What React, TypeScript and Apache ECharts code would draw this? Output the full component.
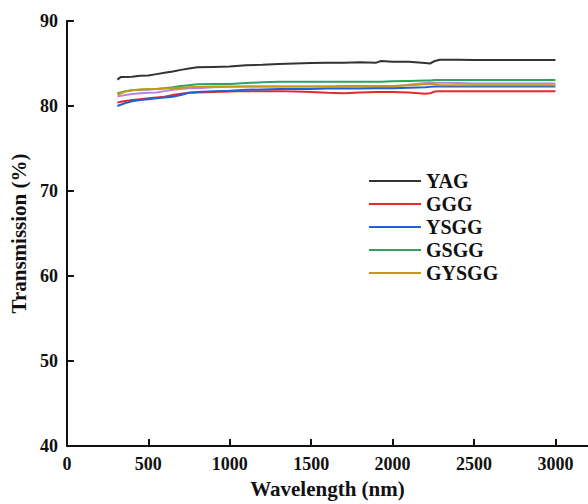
import React, { useEffect, useRef } from "react";
import * as echarts from "echarts";

const wavelengths = [310, 330, 360, 400, 450, 500, 550, 600, 650, 700, 750, 800, 900, 1000, 1100, 1200, 1300, 1400, 1500, 1600, 1700, 1800, 1900, 1930, 2000, 2100, 2200, 2230, 2260, 2290, 2400, 2500, 2600, 2700, 2800, 2900, 3000];

const yag = [83.1, 83.4, 83.4, 83.45, 83.55, 83.6, 83.75, 83.9, 84.05, 84.25, 84.4, 84.55, 84.6, 84.65, 84.8, 84.85, 84.95, 85.0, 85.05, 85.1, 85.1, 85.15, 85.1, 85.3, 85.2, 85.2, 85.05, 85.0, 85.3, 85.45, 85.45, 85.4, 85.4, 85.4, 85.4, 85.4, 85.4];
const ggg = [80.4, 80.5, 80.6, 80.7, 80.8, 80.9, 81.0, 81.1, 81.3, 81.45, 81.55, 81.6, 81.65, 81.7, 81.75, 81.75, 81.75, 81.7, 81.65, 81.55, 81.5, 81.6, 81.65, 81.65, 81.65, 81.6, 81.45, 81.5, 81.7, 81.75, 81.75, 81.75, 81.75, 81.75, 81.75, 81.75, 81.75];
const ysgg = [80.0, 80.15, 80.35, 80.55, 80.7, 80.8, 80.9, 81.0, 81.1, 81.3, 81.55, 81.65, 81.75, 81.8, 81.9, 81.95, 82.0, 82.0, 82.0, 82.05, 82.05, 82.05, 82.1, 82.1, 82.1, 82.15, 82.2, 82.25, 82.3, 82.3, 82.3, 82.3, 82.3, 82.3, 82.3, 82.3, 82.3];
const gsgg = [81.5, 81.6, 81.75, 81.85, 81.9, 81.95, 82.0, 82.1, 82.2, 82.35, 82.45, 82.55, 82.6, 82.6, 82.7, 82.8, 82.85, 82.85, 82.85, 82.85, 82.85, 82.85, 82.85, 82.85, 82.9, 82.95, 83.0, 83.0, 83.05, 83.05, 83.05, 83.05, 83.05, 83.05, 83.05, 83.05, 83.05];
const gysgg = [81.3, 81.5, 81.7, 81.85, 81.95, 82.0, 82.0, 82.05, 82.1, 82.15, 82.2, 82.25, 82.3, 82.3, 82.3, 82.3, 82.3, 82.3, 82.3, 82.3, 82.35, 82.35, 82.35, 82.35, 82.35, 82.45, 82.55, 82.6, 82.55, 82.45, 82.45, 82.45, 82.45, 82.45, 82.45, 82.45, 82.45];
const extra = [81.1, 81.2, 81.3, 81.4, 81.5, 81.55, 81.6, 81.75, 81.9, 82.0, 82.1, 82.1, 82.2, 82.25, 82.3, 82.3, 82.3, 82.3, 82.3, 82.3, 82.3, 82.3, 82.3, 82.3, 82.3, 82.5, 82.7, 82.75, 82.75, 82.75, 82.7, 82.65, 82.65, 82.65, 82.65, 82.65, 82.65];

const legendNames = ["YAG", "GGG", "YSGG", "GSGG", "GYSGG"];
const xTicks = { min: 0, max: 3200, interval: 500 };
const yTicks = { min: 40, max: 90, interval: 10 };

const FONT = "'Liberation Serif', 'Times New Roman', serif";

export default function App() {
  const ref = useRef<HTMLDivElement>(null);
  useEffect(() => {
    if (!ref.current) return;
    const chart = echarts.init(ref.current, null, { renderer: "svg" });
    const mk = (name: string, vals: number[], color: string, z: number) => ({
      name,
      type: "line",
      data: wavelengths.map((w, i) => [w, vals[i]]),
      showSymbol: false,
      symbol: "none",
      z,
      lineStyle: { color, width: 2 },
      itemStyle: { color },
    });
    chart.setOption({
      animation: false,
      backgroundColor: "#ffffff",
      grid: { left: 62, right: 0, top: 21, bottom: 54 },
      legend: {
        data: legendNames,
        orient: "vertical",
        left: 369,
        top: 171,
        padding: 0,
        icon: "rect",
        itemWidth: 52,
        itemHeight: 2,
        itemGap: 3,
        textStyle: { fontFamily: FONT, fontWeight: "bold", fontSize: 20, color: "#111", lineHeight: 20 },
      },
      xAxis: {
        type: "value",
        min: xTicks.min,
        max: xTicks.max,
        interval: xTicks.interval,
        name: "Wavelength (nm)",
        nameLocation: "middle",
        nameGap: 32,
        nameTextStyle: { fontFamily: FONT, fontWeight: "bold", fontSize: 21, color: "#111" },
        axisLine: { lineStyle: { color: "#111", width: 2 } },
        axisTick: { inside: true, length: 7, lineStyle: { color: "#111", width: 2 } },
        axisLabel: {
          fontFamily: FONT, fontWeight: "bold", fontSize: 18, color: "#111", margin: 9, showMaxLabel: false,
          formatter: (v: number) => String(v),
        },
        splitLine: { show: false },
      },
      yAxis: {
        type: "value",
        min: yTicks.min,
        max: yTicks.max,
        interval: yTicks.interval,
        name: "Transmission (%)",
        nameLocation: "middle",
        nameGap: 32,
        nameTextStyle: { fontFamily: FONT, fontWeight: "bold", fontSize: 21, color: "#111" },
        axisLine: { show: true, lineStyle: { color: "#111", width: 2 } },
        axisTick: { show: true, inside: true, length: 7, lineStyle: { color: "#111", width: 2 } },
        axisLabel: { fontFamily: FONT, fontWeight: "bold", fontSize: 18, color: "#111", margin: 9, formatter: (v: number) => String(v) },
        splitLine: { show: false },
      },
      series: [
        mk("extra", extra, "#b883e6", 2),
        mk("GGG", ggg, "#e8282c", 3),
        mk("YSGG", ysgg, "#1f62d8", 4),
        mk("GYSGG", gysgg, "#c39b12", 5),
        mk("GSGG", gsgg, "#2ea35f", 3),
        mk("YAG", yag, "#333333", 6),
      ],
    });
    return () => chart.dispose();
  }, []);
  return <div ref={ref} style={{ width: 588, height: 504, position: "absolute", left: 0, top: 0 }} />;
}
